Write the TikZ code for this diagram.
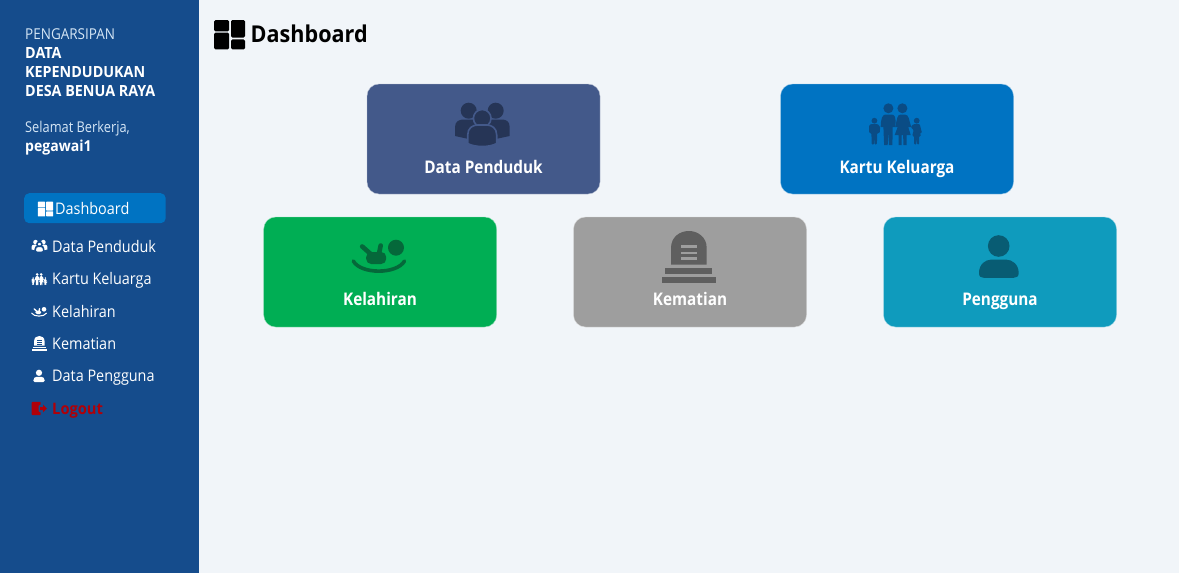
\documentclass[tikz,border=0pt]{standalone}
\usepackage{fontspec}
\setmainfont{Open Sans}[FakeStretch=0.9,BoldFeatures={FakeStretch=0.93}]
\newfontfamily\narrowfont{Open Sans}[FakeStretch=0.86,BoldFeatures={FakeStretch=0.88}]
\definecolor{sidebar}{HTML}{154C8C}
\definecolor{page}{HTML}{F1F5F9}
\definecolor{active}{HTML}{0073C2}
\definecolor{cPend}{HTML}{43598A}
\definecolor{iPend}{HTML}{263556}
\definecolor{iKK}{HTML}{0A4C85}
\definecolor{cLahir}{HTML}{00AE54}
\definecolor{iLahir}{HTML}{05683A}
\definecolor{cMati}{HTML}{9E9E9E}
\definecolor{iMati}{HTML}{5F5F5F}
\definecolor{cUser}{HTML}{0F9BBD}
\definecolor{iUser}{HTML}{085C73}
\definecolor{logoutred}{HTML}{B00008}
\definecolor{lightblue}{HTML}{D5E6F5}
\tikzset{
  card/.style={anchor=north west,inner sep=0pt,outer sep=0pt,minimum width=233pt,minimum height=110pt,rounded corners=12pt,draw=white!60!#1,line width=.4pt,fill=#1},
  cardlabel/.style={anchor=base,inner sep=0pt,text=white,font=\narrowfont\fontsize{17.4}{20}\selectfont\bfseries},
  sidetext/.style={anchor=base west,inner sep=0pt,text=white,font=\fontsize{16}{19}\selectfont},
  sidebold/.style={sidetext,font=\fontsize{15.4}{19}\selectfont\bfseries},
  sidelight/.style={sidetext,text=lightblue,font=\fontsize{15}{19}\selectfont},
}
\newcommand{\iconGrid}[5]{\begin{scope}[shift={(#1,#2)},scale=#3]
 \fill[#4,rounded corners=#5] (-15.4,-14.6) rectangle (-0.6,-3.2);
 \fill[#4,rounded corners=#5] (-15.4,-2.1) rectangle (-0.6,14.8);
 \fill[#4,rounded corners=#5] (1.4,-14.6) rectangle (15.4,3);
 \fill[#4,rounded corners=#5] (1.4,4.8) rectangle (15.4,14.8);
\end{scope}}
\newcommand{\iconPeople}[5]{\begin{scope}[shift={(#1,#2)},scale=#3]
 \fill[#4] (-13,-13.3) circle (8);
 \fill[#4] (14,-13.3) circle (8);
 \fill[#4] (-26.7,12) -- (-26.7,3) .. controls (-26.7,-3) and (-22,-4.5) .. (-18,-4.5) -- (8,-4.5) -- (20,-4.5) .. controls (24,-4.5) and (28,-3) .. (28,3) -- (28,12) -- (14,15) -- (-13,15) -- cycle;
 \fill[#4,draw=#5,line width=1.6pt] (0.5,-5.7) circle (8.8);
 \fill[#4,draw=#5,line width=1.6pt] (-14,19.5) -- (-14,11) .. controls (-14,4) and (-9,1) .. (-4,1) -- (5,1) .. controls (10,1) and (15,4) .. (15,11) -- (15,19.5) .. controls (8,23.5) and (-7,23.5) .. (-14,19.5) -- cycle;
\end{scope}}
\newcommand{\iconFamily}[4]{\begin{scope}[shift={(#1,#2)},scale=#3]
 \fill[#4] (-7.3,-15.7) circle (5);
 \fill[#4] (6.7,-15.7) circle (5);
 \fill[#4] (-21.3,-3.3) circle (2.9);
 \fill[#4] (21,-3.3) circle (2.9);
 \fill[#4] (-15,3) .. controls (-15,-6) and (-13,-9.5) .. (-10,-9.5) -- (-4,-9.5) .. controls (-1,-9.5) and (0,-6) .. (0,-3) -- (-0.5,3) -- (-3,3) -- (-3.3,21) -- (-6.8,21) -- (-7.4,6) -- (-8,21) -- (-11.6,21) -- (-12.3,3) -- cycle;
 \fill[#4] (-0.5,3) -- (1.5,-6) .. controls (2,-8.5) and (3.5,-9.5) .. (5,-9.5) -- (9,-9.5) .. controls (11,-9.5) and (12.5,-8) .. (13,-6) -- (15.5,3) -- (12.5,3) -- (15,11) -- (11,11) -- (11,21) -- (7.8,21) -- (7.4,11) -- (6,11) -- (6,21) -- (3,21) -- (3,11) -- (-1,11) -- (2,3) -- cycle;
 \fill[#4,rounded corners=1pt] (-26.5,9) -- (-26.5,1) -- (-24,0) -- (-18,0) -- (-15.5,3) -- (-16,9) -- (-18.5,9) -- (-18.8,20.5) -- (-21,20.5) -- (-21.3,12) -- (-21.6,20.5) -- (-24,20.5) -- (-24.3,9) -- cycle;
 \fill[#4,rounded corners=1pt] (15,3) -- (18,0) -- (24,0) -- (26.3,9) -- (24,9) -- (25.5,12) -- (23.5,12) -- (23.5,20.5) -- (21.4,20.5) -- (21,12) -- (20.6,20.5) -- (18.5,20.5) -- (18.5,12) -- (16.5,12) -- (18,6) -- cycle;
\end{scope}}
\newcommand{\iconBaby}[5]{\begin{scope}[shift={(#1,#2)},scale=#3]
 \fill[#4] (17.3,-9.3) circle (8);
 \draw[#4,line width=#5*4.6pt,line cap=round] (-16.5,-10.5) -- (-8,-3);
 \draw[#4,line width=#5*4.6pt,line cap=round] (2,-11.5) -- (0,-2);
 \fill[#4,rounded corners=#5*5pt] (-12.5,-5) rectangle (7.5,7);
 \draw[#4,line width=#5*3.6pt,line cap=round] (-25.4,4) .. controls (-18,17.5) and (18,17.5) .. (25.8,4);
\end{scope}}
\newcommand{\iconTomb}[5]{\begin{scope}[shift={(#1,#2)},scale=#3]
 \fill[#4] (-17.7,7.7) -- (-17.7,-9) .. controls (-17.7,-20) and (-9,-26) .. (0.2,-26) .. controls (9,-26) and (18,-20) .. (18,-9) -- (18,7.7) -- cycle;
 \fill[#5] (-7.7,-12) rectangle (8,-9.2);
 \fill[#5] (-7.7,-5.4) rectangle (8,-2.6);
 \fill[#5] (-7.7,0.4) rectangle (8,3.2);
 \fill[#4] (-23.3,10.7) rectangle (23.7,16.7);
 \fill[#4] (-26.7,19.7) rectangle (27,25.7);
\end{scope}}
\newcommand{\iconUser}[4]{\begin{scope}[shift={(#1,#2)},scale=#3]
 \fill[#4] (0,-11) circle (10.8);
 \fill[#4] (-19.7,16) .. controls (-19.7,7) and (-13,2.7) .. (-8,2.7) -- (8,2.7) .. controls (13,2.7) and (20,7) .. (20,16) .. controls (20,19.5) and (18,20.8) .. (15,20.8) -- (-15,20.8) .. controls (-18,20.8) and (-19.7,19.5) .. (-19.7,16) -- cycle;
\end{scope}}
\begin{document}
\begin{tikzpicture}[x=1pt,y=-1pt]
\useasboundingbox (0,0) rectangle (1179,573);
\fill[page] (0,0) rectangle (1179,573);
\fill[sidebar] (0,0) rectangle (199,573);
\node[sidelight] (brand) at (25,39.3) {PENGARSIPAN};
\node[sidebold] (brandA) at (25,58) {DATA};
\node[sidebold] (brandB) at (25,77.2) {KEPENDUDUKAN};
\node[sidebold] (brandC) at (25,96.2) {DESA BENUA RAYA};
\node[sidelight,font=\narrowfont\fontsize{14.9}{19}\selectfont] (greet) at (25,132.6) {Selamat Berkerja,};
\node[sidebold,font=\fontsize{15.1}{19}\selectfont\bfseries] (user) at (25,151.4) {pegawai1};
\node[anchor=north west,inner sep=0pt,minimum width=141.5pt,minimum height=30pt,rounded corners=5pt,fill=active] (pill) at (24,193) {};
\iconGrid{45.5}{209}{0.5}{white}{0.5pt}
\node[sidetext] (mDash) at (55,214) {Dashboard};
\iconPeople{39.3}{246}{0.29}{white}{sidebar}
\node[sidetext] (mPend) at (52,252.4) {Data Penduduk};
\iconFamily{39.3}{279}{0.29}{white}
\node[sidetext] (mKK) at (52,284.8) {Kartu Keluarga};
\iconBaby{39}{312}{0.29}{white}{0.29}
\node[sidetext] (mLahir) at (52,317.2) {Kelahiran};
\iconTomb{39.3}{343.5}{0.29}{white}{sidebar}
\node[sidetext] (mMati) at (52,349.4) {Kematian};
\iconUser{39}{376}{0.29}{white}
\node[sidetext] (mUser) at (52,381.8) {Data Pengguna};
\fill[logoutred,rounded corners=.8pt] (31.7,401.8) -- (40.7,401.8) -- (40.7,405) -- (38.5,405) -- (38.5,412) -- (40.7,412) -- (40.7,415.2) -- (31.7,415.2) -- cycle;
\fill[logoutred] (40,407) -- (43,407) -- (43,404.6) -- (47,408.5) -- (43,412.3) -- (43,410) -- (40,410) -- cycle;
\node[sidebold,text=logoutred,font=\fontsize{15.8}{19}\selectfont\bfseries] (mOut) at (52,414) {Logout};
\iconGrid{229.6}{34.6}{1}{black}{1.4pt}
\node[anchor=base west,inner sep=0pt,text=black,font=\fontsize{23.2}{28}\selectfont\bfseries] (title) at (250.5,42) {Dashboard};
\node[card=cPend] (c1) at (367,84) {};
\iconPeople{481.7}{124}{1}{iPend}{cPend}
\node[cardlabel] (l1) at (483.5,173) {Data Penduduk};
\node[card=active] (c2) at (780.5,84) {};
\iconFamily{895.7}{124}{1}{iKK}
\node[cardlabel] (l2) at (897,173) {Kartu Keluarga};
\node[card=cLahir] (c3) at (263.7,217) {};
\iconBaby{378.7}{257}{1}{iLahir}{1}
\node[cardlabel] (l3) at (380,305.3) {Kelahiran};
\node[card=cMati] (c4) at (573.5,217) {};
\iconTomb{688.7}{257}{1}{iMati}{cMati}
\node[cardlabel] (l4) at (690,305.3) {Kematian};
\node[card=cUser] (c5) at (883.5,217) {};
\iconUser{998.7}{257}{1}{iUser}
\node[cardlabel] (l5) at (1000,305.3) {Pengguna};
\end{tikzpicture}
\end{document}
